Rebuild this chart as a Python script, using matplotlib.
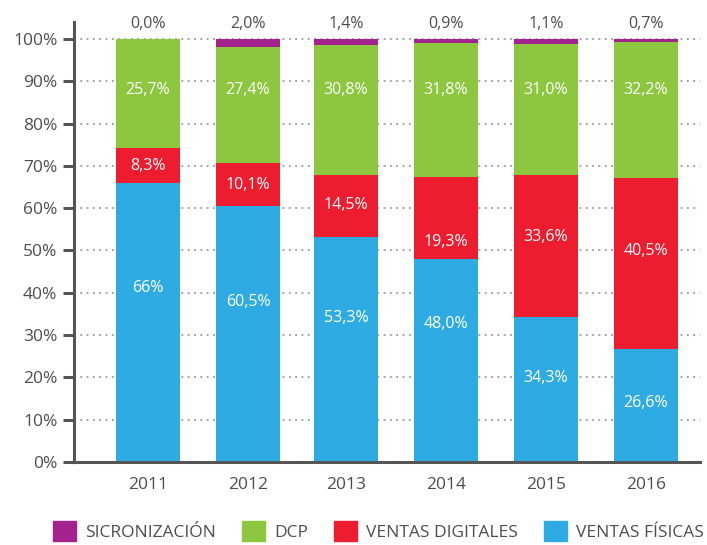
import matplotlib
matplotlib.use("Agg")
import matplotlib.pyplot as plt
from matplotlib.patches import Patch
import numpy as np

years = ["2011", "2012", "2013", "2014", "2015", "2016"]
fisicas = [66.0, 60.5, 53.3, 48.0, 34.3, 26.6]
digitales = [8.3, 10.1, 14.5, 19.3, 33.6, 40.5]
dcp = [25.7, 27.4, 30.8, 31.8, 31.0, 32.2]
sincro = [0.0, 2.0, 1.4, 0.9, 1.1, 0.7]

fisicas_lbl = ["66%", "60,5%", "53,3%", "48,0%", "34,3%", "26,6%"]
digitales_lbl = ["8,3%", "10,1%", "14,5%", "19,3%", "33,6%", "40,5%"]
dcp_lbl = ["25,7%", "27,4%", "30,8%", "31,8%", "31,0%", "32,2%"]
sincro_lbl = ["0,0%", "2,0%", "1,4%", "0,9%", "1,1%", "0,7%"]

# label heights (layout only)
fis_y = [41.2, 37.9, 34.1, 32.7, 19.9, 14.0]
dig_y = [70.0, 65.5, 60.8, 52.1, 53.1, 49.8]
dcp_y = [87.9] * 6

c_sin = "#A3228D"
c_dcp = "#8DC63F"
c_dig = "#ED1C2E"
c_fis = "#2EABE2"
grey = "#4D4D4D"

plt.rcParams['font.family'] = ['Open Sans', 'DejaVu Sans']

fig = plt.figure(figsize=(7.07, 5.45), dpi=100)
ax = fig.add_axes([74/707, 1-462/545, (700-74)/707, (462-22)/545])

x = np.array([0.02, 1.02, 2.0, 3.0, 4.0, 5.0])
w = 0.64
b1 = np.array(fisicas)
b2 = b1 + np.array(digitales)
b3 = b2 + np.array(dcp)

ax.bar(x, fisicas, w, color=c_fis, zorder=2)
ax.bar(x, digitales, w, bottom=b1, color=c_dig, zorder=2)
ax.bar(x, dcp, w, bottom=b2, color=c_dcp, zorder=2)
ax.bar(x, sincro, w, bottom=b3, color=c_sin, zorder=2)

for i in range(len(years)):
    ax.text(x[i], fis_y[i], fisicas_lbl[i], ha="center", va="center", color="white", fontsize=11.5, zorder=3)
    ax.text(x[i], dig_y[i], digitales_lbl[i], ha="center", va="center", color="white", fontsize=11.5, zorder=3)
    ax.text(x[i], dcp_y[i], dcp_lbl[i], ha="center", va="center", color="white", fontsize=11.5, zorder=3)
    ax.text(x[i], 103.6, sincro_lbl[i], ha="center", va="center", color=grey, fontsize=11.5, zorder=3, clip_on=False)

ax.set_xlim(-0.72, 5.54)
ax.set_ylim(0, 104)
ax.set_yticks(np.arange(0, 101, 10))
ax.set_yticklabels([f"{v}%" for v in range(0, 101, 10)])
ax.set_xticks(x)
ax.set_xticklabels(years)

for v in range(10, 101, 10):
    ax.axhline(v, color="#999999", lw=1.3, ls=(0, (1, 2.5)), zorder=1)

for s in ["top", "right"]:
    ax.spines[s].set_visible(False)
ax.spines["left"].set_color("#555555")
ax.spines["bottom"].set_color("#555555")
ax.spines["left"].set_linewidth(2.2)
ax.spines["bottom"].set_linewidth(2.2)
ax.tick_params(axis="y", direction="out", length=8, width=2.2, color="#555555",
               labelcolor=grey, labelsize=12.5, pad=4)
ax.tick_params(axis="x", length=0, labelcolor=grey, labelsize=12.5, pad=11)

handles = [Patch(color=c_sin, label="SICRONIZACIÓN"),
           Patch(color=c_dcp, label="DCP"),
           Patch(color=c_dig, label="VENTAS DIGITALES"),
           Patch(color=c_fis, label="VENTAS FÍSICAS")]
leg = fig.legend(handles=handles, loc="lower center", bbox_to_anchor=(0.535, -0.022), ncol=4,
                 frameon=False, handlelength=1.35, handleheight=1.45, handletextpad=0.5,
                 columnspacing=1.5, fontsize=12.5)
for t in leg.get_texts():
    t.set_color(grey)

fig.savefig("out.png", dpi=100)
